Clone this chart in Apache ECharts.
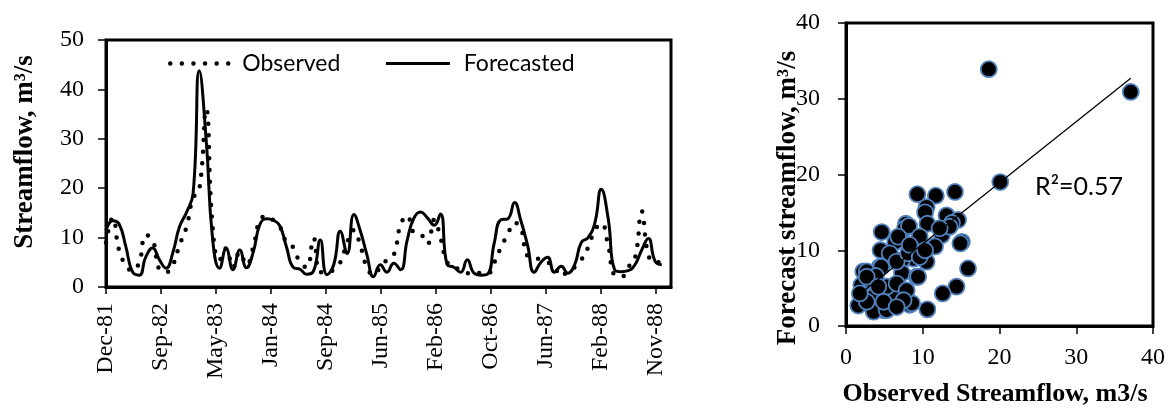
<!DOCTYPE html>
<html>
<head>
<meta charset="utf-8">
<script src="https://cdn.jsdelivr.net/npm/echarts@6/dist/echarts.min.js"></script>
<style>
  html, body { margin: 0; padding: 0; background: #ffffff; }
  #chart { width: 1169px; height: 410px; }
</style>
</head>
<body>
<div id="chart"></div>
<script>
// Monthly streamflow (m3/s), month-end dates from Dec 1981 to Nov 1988
const firstYear = 1981;
const firstMonth = 11; // December, 0-based
const observed = [
  9.0, 14.0, 7.5, 4.5, 3.3, 5.0, 10.5, 9.5, 3.5, 3.0, 4.5, 8.5,
  12.0, 18.0, 19.6, 36.0, 12.0, 5.5, 7.8, 4.0, 7.0, 4.5, 8.0, 13.5,
  14.3, 13.5, 12.2, 9.0, 8.0, 5.0, 4.0, 9.9, 3.0, 3.0, 3.5, 5.0,
  9.0, 11.5, 8.5, 4.0, 2.5, 4.0, 5.5, 6.5, 12.6, 14.4, 11.0, 10.7,
  8.7, 13.6, 10.0, 5.0, 4.0, 3.5, 2.8, 3.0, 2.8, 2.7, 5.0, 8.0,
  10.7, 13.0, 12.0, 6.3, 6.0, 5.5, 5.0, 4.0, 2.2, 3.2, 4.0, 5.5,
  8.0, 11.5, 12.8, 8.5, 2.4, 2.1, 4.0, 5.8, 15.3, 6.5, 5.0, 5.0
];
const forecasted = [
  11.5, 13.4, 12.8, 8.2, 3.1, 2.4, 6.1, 7.9, 5.5, 3.8, 7.0, 12.2,
  15.0, 19.0, 43.8, 30.0, 9.5, 3.8, 7.8, 3.5, 7.5, 3.9, 7.0, 12.6,
  13.8, 13.5, 12.4, 8.0, 4.0, 3.6, 2.6, 3.2, 9.5, 2.5, 4.5, 11.3,
  6.8, 14.7, 11.5, 6.5, 2.1, 4.5, 3.0, 4.8, 3.5, 9.5, 14.0, 15.2,
  14.0, 12.5, 14.8, 4.5, 4.0, 3.0, 5.5, 2.8, 2.4, 2.6, 9.0, 13.6,
  13.8, 17.1, 13.5, 8.5, 3.0, 5.0, 6.0, 3.0, 4.2, 2.8, 4.5, 9.0,
  10.0, 13.0, 19.8, 14.0, 3.5, 3.1, 3.3, 4.5, 7.5, 9.8, 5.2, 4.5
];
// Date axis: a label every 250 days starting 31 Dec 1981
const dateTickLabels = ['Dec-81', 'Sep-82', 'May-83', 'Jan-84', 'Sep-84', 'Jun-85',
                        'Feb-86', 'Oct-86', 'Jun-87', 'Feb-88', 'Nov-88'];
const dateTickStep = 250;
const dateAxisEnd = 2568;
const streamflowTicks = [0, 10, 20, 30, 40, 50];

// Observed vs forecast streamflow pairs (m3/s)
const scatterObserved = [
  18.6, 37.1, 20.1, 9.3, 11.7, 14.2, 10.5, 10.3, 13.1, 14.6,
  13.8, 10.6, 7.8, 7.7, 8.2, 4.65, 12.5, 15.1, 14.9, 6.4,
  11.4, 4.5, 9.2, 8.8, 10.5, 7.3, 4.4, 4.6, 15.9, 7.3,
  9.2, 9.4, 2.25, 2.7, 2.0, 14.4, 12.6, 3.8, 6.2, 8.3,
  10.6, 1.6, 3.6, 4.9, 6.0, 5.1, 5.7, 6.6, 8.6, 3.6,
  5.3, 5.7, 6.6, 8.1, 9.6, 11.6, 3.1, 3.9, 5.3, 6.6,
  7.9, 4.9, 2.7, 1.8, 9.6, 13.5, 12.2, 6.8, 8.3, 10.3,
  2.7, 4.2, 7.5, 6.6
];
const scatterForecast = [
  33.9, 30.9, 19.0, 17.4, 17.2, 17.7, 15.7, 15.0, 14.6, 14.0,
  13.6, 13.5, 13.5, 12.9, 13.2, 12.4, 12.0, 11.1, 10.9, 11.1,
  10.5, 10.0, 10.0, 8.9, 8.5, 8.7, 7.8, 7.8, 7.6, 7.0,
  6.5, 6.5, 7.2, 7.2, 5.4, 5.2, 4.3, 4.1, 3.9, 2.8,
  2.2, 2.7, 2.1, 2.1, 2.8, 3.65, 3.0, 3.9, 3.0, 1.9,
  2.1, 9.6, 8.5, 9.6, 9.1, 10.5, 6.1, 6.6, 5.2, 5.6,
  4.7, 3.2, 3.2, 4.3, 11.8, 13.1, 12.9, 11.8, 10.7, 10.0,
  6.5, 5.2, 3.4, 2.5
];
const scatterTicks = [0, 10, 20, 30, 40];
// Linear trend of forecast on observed
const trendSlope = 0.807;
const trendIntercept = 2.76;
const fitLabel = 'R\u00b2=0.57';

const serif = '"Liberation Serif", "Times New Roman", serif';
const sans = 'Lato, "Open Sans", sans-serif';

// Day offsets of each month-end from the first month-end
const DAY_MS = 86400000;
const baseTime = Date.UTC(firstYear, firstMonth + 1, 0);
const dayOffset = (i) => (Date.UTC(firstYear, firstMonth + 1 + i, 0) - baseTime) / DAY_MS;
const observedPoints = observed.map((v, i) => [dayOffset(i), v]);
const forecastPoints = forecasted.map((v, i) => [dayOffset(i), v]);
const dateTickValues = dateTickLabels.map((_, k) => k * dateTickStep);

const scatterPoints = scatterObserved.map((x, i) => [x, scatterForecast[i]]);
const xMin = Math.min(...scatterObserved);
const xMax = Math.max(...scatterObserved);
const trendPoints = [xMin, xMax].map((x) => [x, trendIntercept + trendSlope * x]);

const chart = echarts.init(document.getElementById('chart'), null, { renderer: 'canvas' });

const tickStyle = { color: '#000', width: 1.5 };
const hiddenMarker = { color: '#000', opacity: 0 };

chart.setOption({
  animation: false,
  backgroundColor: '#ffffff',
  grid: [
    { left: 106, top: 40, width: 565, height: 247, show: true, borderColor: '#000', borderWidth: 3, backgroundColor: '#fff' },
    { left: 846, top: 23, width: 307, height: 303, show: true, borderColor: '#000', borderWidth: 3, backgroundColor: '#fff' }
  ],
  legend: {
    left: 163,
    top: 47,
    itemWidth: 64,
    itemHeight: 14,
    itemGap: 44,
    textStyle: { fontFamily: sans, fontSize: 23, color: '#000', padding: [0, 0, 0, 3] },
    data: [
      { name: 'Observed', itemStyle: hiddenMarker,
        lineStyle: { color: '#000', width: 4.5, type: [0, 11.6], cap: 'round' } },
      { name: 'Forecasted', itemStyle: hiddenMarker,
        textStyle: { fontFamily: sans, fontSize: 23, color: '#000', padding: [0, 0, 0, 9] },
        lineStyle: { color: '#000', width: 3 } }
    ]
  },
  xAxis: [
    {
      type: 'value', gridIndex: 0, min: 0, max: dateAxisEnd, interval: dateTickStep,
      axisLine: { show: true, lineStyle: { color: '#000', width: 3 } },
      axisTick: { show: true, inside: false, length: 7, lineStyle: tickStyle, customValues: dateTickValues },
      axisLabel: {
        customValues: dateTickValues, rotate: 90, margin: 16,
        fontFamily: serif, fontSize: 24, color: '#000',
        formatter: (v) => dateTickLabels[Math.round(v / dateTickStep)] || ''
      },
      splitLine: { show: false }
    },
    {
      type: 'value', gridIndex: 1, min: 0, max: 40, interval: 10,
      axisLine: { show: true, lineStyle: { color: '#000', width: 3 } },
      axisTick: { show: true, inside: false, length: 8, lineStyle: tickStyle },
      axisLabel: { margin: 20, fontFamily: serif, fontSize: 24, color: '#000',
        formatter: (v) => scatterTicks.includes(v) ? String(v) : '' },
      splitLine: { show: false }
    }
  ],
  yAxis: [
    {
      type: 'value', gridIndex: 0, min: 0, max: 50, interval: 10,
      axisLine: { show: true, lineStyle: { color: '#000', width: 3 } },
      axisTick: { show: true, inside: false, length: 8, lineStyle: tickStyle },
      axisLabel: { margin: 22, fontFamily: serif, fontSize: 24, color: '#000',
        formatter: (v) => streamflowTicks.includes(v) ? String(v) : '' },
      splitLine: { show: false }
    },
    {
      type: 'value', gridIndex: 1, min: 0, max: 40, interval: 10,
      axisLine: { show: true, lineStyle: { color: '#000', width: 3 } },
      axisTick: { show: true, inside: false, length: 8, lineStyle: tickStyle },
      axisLabel: { margin: 26, fontFamily: serif, fontSize: 24, color: '#000',
        formatter: (v) => scatterTicks.includes(v) ? String(v) : '' },
      splitLine: { show: false }
    }
  ],
  graphic: [
    {
      type: 'text', x: 25, y: 152, rotation: Math.PI / 2,
      style: { text: 'Streamflow, m\u00b3/s', fontFamily: serif, fontWeight: 'bold', fontSize: 27,
        fill: '#000', align: 'center', verticalAlign: 'middle' }
    },
    {
      type: 'text', x: 788, y: 198, rotation: Math.PI / 2,
      style: { text: 'Forecast streamflow, m\u00b3/s', fontFamily: serif, fontWeight: 'bold', fontSize: 27,
        fill: '#000', align: 'center', verticalAlign: 'middle' }
    },
    {
      type: 'text', x: 995, y: 394,
      style: { text: 'Observed Streamflow, m3/s', fontFamily: serif, fontWeight: 'bold', fontSize: 26,
        fill: '#000', align: 'center', verticalAlign: 'middle' }
    },
    {
      type: 'text', x: 1035, y: 187, z: 10,
      style: { text: fitLabel, fontFamily: sans, fontSize: 25, fill: '#000', align: 'left', verticalAlign: 'middle' }
    }
  ],
  series: [
    {
      name: 'Observed', type: 'line', xAxisIndex: 0, yAxisIndex: 0,
      data: observedPoints, smooth: 0.5, symbol: 'none', color: '#000',
      lineStyle: { color: '#000', width: 4.5, type: [0, 11.6], cap: 'round' },
      z: 3
    },
    {
      name: 'Forecasted', type: 'line', xAxisIndex: 0, yAxisIndex: 0,
      data: forecastPoints, smooth: 0.5, symbol: 'none', color: '#000',
      lineStyle: { color: '#000', width: 3, join: 'round' },
      z: 4
    },
    {
      name: 'Scatter', type: 'scatter', xAxisIndex: 1, yAxisIndex: 1,
      data: scatterPoints, symbol: 'circle', symbolSize: 16,
      itemStyle: { color: '#000', borderColor: '#4F81BD', borderWidth: 1.8, opacity: 1 },
      z: 3
    },
    {
      name: 'Trend', type: 'line', xAxisIndex: 1, yAxisIndex: 1,
      data: trendPoints, symbol: 'none', smooth: false, color: '#000',
      lineStyle: { color: '#000', width: 1.3 },
      z: 5
    }
  ]
});
</script>
</body>
</html>
